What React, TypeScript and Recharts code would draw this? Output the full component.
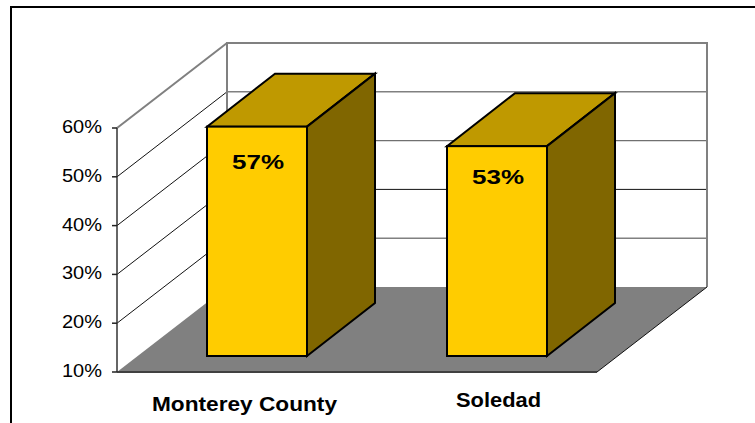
import React from "react";
import { BarChart, Bar, XAxis, YAxis, ReferenceArea, LabelList } from "recharts";

// Share of respondents by area
const areas = ["Monterey County", "Soledad"];
const shares = [57, 53];
const shareTicks = [10, 20, 30, 40, 50, 60];

const rows = areas.map((area, i) => ({ area, share: shares[i] }));

const WIDTH = 755;
const HEIGHT = 423;
const FONT = '"Liberation Sans", Arial, sans-serif';

// Oblique projection used for the box: how far the back wall sits from the front plane.
const WALL_DX = 110;
const WALL_DY = -85;
// A bar starts part-way into the box and has its own depth.
const BAR_SHIFT_X = 20;
const BAR_SHIFT_Y = -16;
const BAR_DX = 68;
const BAR_DY = -53;

// Category captions are not quite centred under their bars.
const captionNudge: Record<string, { dx: number; y: number; len: number }> = {
  "Monterey County": { dx: 7.5, y: 411, len: 185 },
  Soledad: { dx: 21.5, y: 407, len: 85 },
};
// Distance from the top of a bar's front face down to its value's baseline.
const valueDrop = [42, 38];

const backLineStyle = [
  { stroke: "#808080", strokeWidth: 1.5 },
  { stroke: "#707070", strokeWidth: 1.2 },
  { stroke: "#111111", strokeWidth: 1 },
  { stroke: "#808080", strokeWidth: 1.5 },
  { stroke: "#808080", strokeWidth: 1.5 },
];

function Box(props: any) {
  const { x, y, width, height } = props;
  const left = x;
  const right = x + width;
  const top = y;
  const bottom = y + height;
  const min = shareTicks[0];
  const max = shareTicks[shareTicks.length - 1];
  const yOf = (t: number) => bottom - ((t - min) / (max - min)) * height;
  const inner = shareTicks.slice(1, -1);
  return (
    <g>
      <polygon
        points={`${left},${bottom} ${right},${bottom} ${right + WALL_DX},${bottom + WALL_DY} ${left + WALL_DX},${bottom + WALL_DY}`}
        fill="#808080"
      />
      {inner.map((t, i) => (
        <g key={t}>
          <line x1={left} y1={yOf(t)} x2={left + WALL_DX} y2={yOf(t) + WALL_DY} stroke="#111111" strokeWidth={1} />
          <line
            x1={left + WALL_DX}
            y1={yOf(t) + WALL_DY}
            x2={right + WALL_DX}
            y2={yOf(t) + WALL_DY}
            {...backLineStyle[inner.length - 1 - i]}
          />
        </g>
      ))}
      <line x1={left} y1={top} x2={left + WALL_DX} y2={top + WALL_DY} stroke="#808080" strokeWidth={2} />
      <polyline
        points={`${left + WALL_DX},${bottom + WALL_DY} ${left + WALL_DX},${top + WALL_DY} ${right + WALL_DX},${top + WALL_DY} ${right + WALL_DX},${bottom + WALL_DY}`}
        fill="none"
        stroke="#808080"
        strokeWidth={2}
      />
      <line x1={right} y1={bottom} x2={right + WALL_DX} y2={bottom + WALL_DY} stroke="#111111" strokeWidth={1} />
    </g>
  );
}

function Block(props: any) {
  const { x, y, width, height } = props;
  const l = x + BAR_SHIFT_X;
  const r = l + width;
  const t = y + BAR_SHIFT_Y;
  const b = t + height;
  const edge = { stroke: "#000000", strokeWidth: 2, strokeLinejoin: "miter" as const };
  return (
    <g>
      <polygon points={`${l},${t} ${r},${t} ${r + BAR_DX},${t + BAR_DY} ${l + BAR_DX},${t + BAR_DY}`} fill="#BF9900" {...edge} />
      <polygon points={`${r},${t} ${r + BAR_DX},${t + BAR_DY} ${r + BAR_DX},${b + BAR_DY} ${r},${b}`} fill="#806600" {...edge} />
      <rect x={l} y={t} width={width} height={height} fill="#FFCC00" {...edge} />
    </g>
  );
}

function ValueLabel(props: any) {
  const { x, y, width, value, index } = props;
  return (
    <text
      x={x + BAR_SHIFT_X + width / 2 + 1}
      y={y + BAR_SHIFT_Y + valueDrop[index]}
      textAnchor="middle"
      fontFamily={FONT}
      fontWeight="bold"
      fontSize={20}
      textLength={52}
      lengthAdjust="spacingAndGlyphs"
      fill="#000000"
    >
      {`${value}%`}
    </text>
  );
}

function ShareTick(props: any) {
  const { x, y, payload } = props;
  return (
    <text
      x={x - 8}
      y={y + 5}
      textAnchor="end"
      fontFamily={FONT}
      fontSize={18}
      textLength={40}
      lengthAdjust="spacingAndGlyphs"
      fill="#000000"
    >
      {`${payload.value}%`}
    </text>
  );
}

function AreaTick(props: any) {
  const { x, payload } = props;
  const nudge = captionNudge[payload.value];
  return (
    <text
      x={x + nudge.dx}
      y={nudge.y}
      textAnchor="middle"
      fontFamily={FONT}
      fontWeight="bold"
      fontSize={21}
      textLength={nudge.len}
      lengthAdjust="spacingAndGlyphs"
      fill="#000000"
    >
      {payload.value}
    </text>
  );
}

export default function App() {
  return (
    <div style={{ position: "fixed", left: 0, top: 0, width: WIDTH, height: HEIGHT, overflow: "hidden", background: "#ffffff" }}>
      <div
        style={{
          position: "absolute",
          left: 10,
          top: 6,
          width: WIDTH + 20,
          height: HEIGHT + 20,
          border: "2.5px solid #000000",
          boxSizing: "border-box",
        }}
      />
      <div style={{ position: "absolute", left: 0, top: 0 }}>
        <BarChart
          width={WIDTH}
          height={HEIGHT}
          data={rows}
          margin={{ top: 128, right: 158, bottom: 0, left: 0 }}
          barCategoryGap={0}
        >
          <ReferenceArea y1={10} y2={60} shape={Box} ifOverflow="visible" />
          <XAxis
            dataKey="area"
            tick={AreaTick}
            tickLine={false}
            axisLine={{ stroke: "#404040", strokeWidth: 2 }}
            interval={0}
            height={51}
          />
          <YAxis
            domain={[10, 60]}
            ticks={shareTicks}
            tick={ShareTick}
            width={117}
            tickSize={5}
            tickLine={{ stroke: "#222222", strokeWidth: 1.5 }}
            axisLine={{ stroke: "#333333", strokeWidth: 1.5 }}
          />
          <Bar dataKey="share" barSize={100} shape={Block} isAnimationActive={false}>
            <LabelList dataKey="share" content={ValueLabel} />
          </Bar>
        </BarChart>
      </div>
    </div>
  );
}
